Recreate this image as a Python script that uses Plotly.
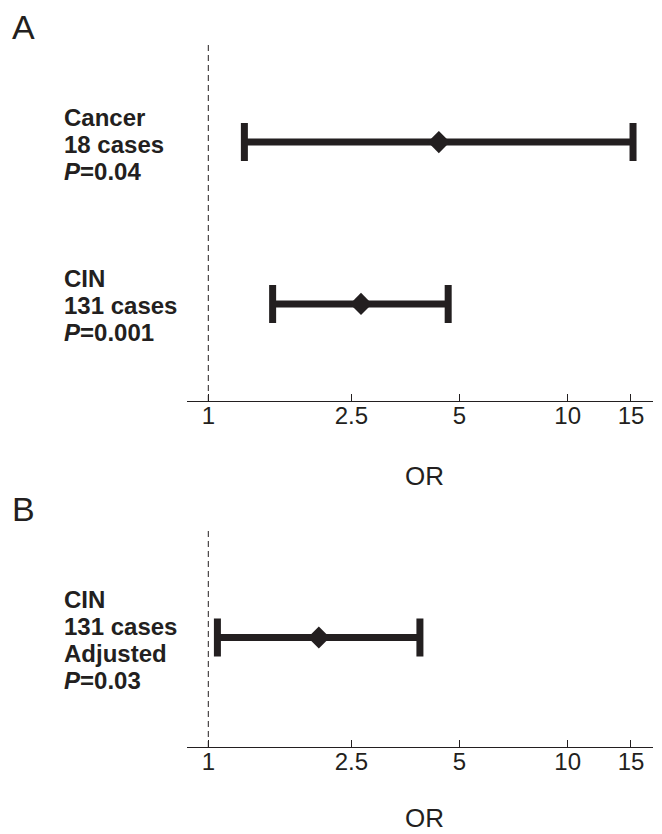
import plotly.graph_objects as go

OFF = 8  # page body margin in the browser
W, H = 662 - OFF, 834 - OFF
INK = "#231f20"
FONT = "Liberation Sans, Arial, sans-serif"

# ---- data ----
rows_A = ["Cancer", "CIN"]
cases_A = ["18 cases", "131 cases"]
p_A = ["0.04", "0.001"]
or_A = [4.38, 2.66]
lo_A = [1.26, 1.51]
hi_A = [15.2, 4.65]
pos_A = [2, 1]

rows_B = ["CIN"]
cases_B = ["131 cases"]
note_B = ["Adjusted"]
p_B = ["0.03"]
or_B = [2.03]
lo_B = [1.06]
hi_B = [3.88]
pos_B = [1]

tick_vals = [1, 2.5, 5, 10, 15]
tick_text = ["1", "2.5", "5", "10", "15"]
ref_or = 1


def px(v):
    return (v - OFF) / W


def py(v):
    return 1 - (v - OFF) / H


fig = go.Figure()


def add_panel(ors, los, his, pos, xa, ya, yr):
    fig.add_trace(go.Scatter(
        x=[ref_or, ref_or], y=list(yr), mode="lines",
        line=dict(color=INK, width=1, dash="6px,4px"),
        xaxis=xa, yaxis=ya, showlegend=False, hoverinfo="skip"))
    fig.add_trace(go.Scatter(
        x=ors, y=pos, mode="markers",
        marker=dict(symbol="diamond", size=17, color=INK),
        error_x=dict(type="data", symmetric=False,
                     array=[h - o for h, o in zip(his, ors)],
                     arrayminus=[o - l for o, l in zip(ors, los)],
                     color=INK, thickness=7, width=19),
        xaxis=xa, yaxis=ya, showlegend=False))


yrA = (0.4, 2.6)
yrB = (0.0, 2.0)
add_panel(or_A, lo_A, hi_A, pos_A, "x", "y", yrA)
add_panel(or_B, lo_B, hi_B, pos_B, "x2", "y2", yrB)

xdom = [px(187), px(653)]
xrng = [-0.0593, 1.2374]
xax = dict(type="log", range=xrng, domain=xdom, showline=True, linecolor=INK,
           linewidth=1.2, ticks="inside", ticklen=7, tickwidth=1, tickcolor=INK,
           tickvals=tick_vals, ticktext=tick_text, showgrid=False, zeroline=False,
           ticklabelstandoff=-7,
           tickfont=dict(family=FONT, size=24, color=INK))

fig.update_layout(
    width=W, height=H, margin=dict(l=0, r=0, t=0, b=0),
    paper_bgcolor="white", plot_bgcolor="white",
    xaxis=dict(xax, anchor="y"),
    xaxis2=dict(xax, anchor="y2"),
    yaxis=dict(domain=[py(401), py(45)], range=list(yrA), visible=False),
    yaxis2=dict(domain=[py(747), py(528)], range=list(yrB), visible=False),
)

annos = []
LS = 27


def label_block(lines, y, yref):
    n = len(lines)
    for i, t in enumerate(lines):
        annos.append(dict(x=px(62), xref="paper", xanchor="left", y=y, yref=yref,
                          yanchor="middle", yshift=((n - 1) / 2 - i) * LS - 2,
                          text=t, showarrow=False,
                          font=dict(family=FONT, size=24, color=INK)))


for r, c, p, y in zip(rows_A, cases_A, p_A, pos_A):
    label_block(["<b>%s</b>" % r, "<b>%s</b>" % c, "<b><i>P</i>=%s</b>" % p], y, "y")
for r, c, n, p, y in zip(rows_B, cases_B, note_B, p_B, pos_B):
    label_block(["<b>%s</b>" % r, "<b>%s</b>" % c, "<b>%s</b>" % n,
                 "<b><i>P</i>=%s</b>" % p], y, "y2")

for txt, yc in [("A", 27), ("B", 509)]:
    annos.append(dict(x=px(10), xref="paper", xanchor="left", y=py(yc), yref="paper",
                      yanchor="middle", text=txt, showarrow=False,
                      font=dict(family=FONT, size=34, color=INK)))
for yc in [476, 818]:
    annos.append(dict(x=px(424.5), xref="paper", xanchor="center", y=py(yc),
                      yref="paper", yanchor="middle", text="OR", showarrow=False,
                      font=dict(family=FONT, size=26, color=INK)))

fig.update_layout(annotations=annos)
fig.write_html("out.html")
